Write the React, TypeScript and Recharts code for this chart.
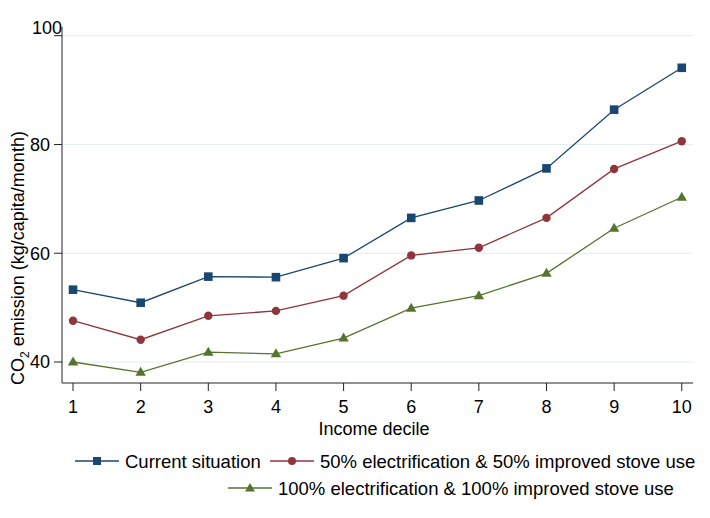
import React from "react";
import { LineChart, Line, XAxis, YAxis, CartesianGrid, Legend, Label } from "recharts";

const deciles = [1, 2, 3, 4, 5, 6, 7, 8, 9, 10];
const currentSituation = [53.3, 50.9, 55.7, 55.6, 59.1, 66.5, 69.7, 75.6, 86.4, 94.1];
const halfElectrification = [47.6, 44.1, 48.5, 49.4, 52.2, 59.6, 61.0, 66.5, 75.5, 80.6];
const fullElectrification = [40.0, 38.1, 41.8, 41.5, 44.4, 49.9, 52.2, 56.3, 64.6, 70.3];
const yTicks = [40, 60, 80, 100];
const seriesNames = [
  "Current situation",
  "50% electrification & 50% improved stove use",
  "100% electrification & 100% improved stove use",
];

const BLUE = "#1a476f";
const RED = "#90353b";
const GREEN = "#55752f";
const FONT = "'Liberation Sans', Arial, sans-serif";

const data = deciles.map((d, i) => ({
  decile: d,
  current: currentSituation[i],
  half: halfElectrification[i],
  full: fullElectrification[i],
}));

const SquareDot = (props: any) => {
  const { cx, cy } = props;
  if (cx == null || cy == null) return null;
  return <rect x={cx - 4.3} y={cy - 4.3} width={8.6} height={8.6} fill={BLUE} />;
};
const CircleDot = (props: any) => {
  const { cx, cy } = props;
  if (cx == null || cy == null) return null;
  return <circle cx={cx} cy={cy} r={4.2} fill={RED} />;
};
const TriangleDot = (props: any) => {
  const { cx, cy } = props;
  if (cx == null || cy == null) return null;
  return <polygon points={`${cx},${cy - 5.5} ${cx - 5.2},${cy + 3.5} ${cx + 5.2},${cy + 3.5}`} fill={GREEN} />;
};

const YTick = (props: any) => {
  const { x, y, payload } = props;
  const isTop = payload.value === 100;
  return (
    <text
      x={isTop ? x + 12 : x}
      y={isTop ? y - 8 : y}
      dy="0.355em"
      textAnchor="end"
      fontSize={18}
      fontFamily={FONT}
      fill="#000"
    >
      {payload.value}
    </text>
  );
};

const XTick = (props: any) => {
  const { x, y, payload } = props;
  return (
    <text x={x} y={y} dy="0.71em" textAnchor="middle" fontSize={18} fontFamily={FONT} fill="#000">
      {payload.value}
    </text>
  );
};

const YTitle = () => (
  <text
    transform="translate(24,258) rotate(-90)"
    textAnchor="middle"
    fontSize={18}
    fontFamily={FONT}
    fill="#000"
  >
    CO<tspan fontSize={12} dy={5}>2</tspan>
    <tspan dy={-5}> emission (kg/capita/month)</tspan>
  </text>
);

const XTitle = () => (
  <text x={374} y={435} textAnchor="middle" fontSize={18} fontFamily={FONT} fill="#000">
    Income decile
  </text>
);

const LegendContent = () => {
  const items = [
    { name: seriesNames[0], color: BLUE, lx: 75, y: 21, marker: "square" },
    { name: seriesNames[1], color: RED, lx: 270, y: 21, marker: "circle" },
    { name: seriesNames[2], color: GREEN, lx: 228, y: 48, marker: "triangle" },
  ];
  return (
    <svg width={710} height={78} style={{ display: "block" }}>
      {items.map((it) => {
        const mx = it.lx + 22;
        return (
          <g key={it.name}>
            <line x1={it.lx} x2={it.lx + 44} y1={it.y} y2={it.y} stroke={it.color} strokeWidth={1.3} />
            {it.marker === "square" && <rect x={mx - 4} y={it.y - 4} width={8} height={8} fill={it.color} />}
            {it.marker === "circle" && <circle cx={mx} cy={it.y} r={4} fill={it.color} />}
            {it.marker === "triangle" && (
              <polygon points={`${mx},${it.y - 5} ${mx - 5},${it.y + 3.5} ${mx + 5},${it.y + 3.5}`} fill={it.color} />
            )}
            <text x={it.lx + 50} y={it.y} dy="0.355em" fontSize={18.5} fontFamily={FONT} fill="#000">
              {it.name}
            </text>
          </g>
        );
      })}
    </svg>
  );
};

export default function App() {
  return (
    <div style={{ position: "absolute", left: 0, top: 0, width: 710, height: 518, background: "#fff" }}>
      <LineChart width={710} height={518} data={data} margin={{ top: 27, right: 17, bottom: 105, left: 22 }}>
        <CartesianGrid vertical={false} horizontalValues={yTicks} stroke="#e4edef" strokeWidth={1} />
        <XAxis
          dataKey="decile"
          type="number"
          domain={[0.837, 10.166]}
          ticks={deciles}
          allowDataOverflow
          height={30}
          tickSize={8}
          tickMargin={9}
          stroke="#222"
          tick={<XTick />}
          interval={0}
        >
          <Label content={<XTitle />} />
        </XAxis>
        <YAxis
          type="number"
          domain={[36.14, 101.6]}
          ticks={yTicks}
          allowDataOverflow
          width={40}
          tickSize={8}
          tickMargin={4}
          stroke="#222"
          tick={<YTick />}
          interval={0}
        >
          <Label content={<YTitle />} />
        </YAxis>
        <Legend
          layout="horizontal"
          verticalAlign="middle"
          align="center"
          content={<LegendContent />}
          wrapperStyle={{ position: "absolute", left: 0, top: 440, width: 710, height: 78 }}
        />
        <Line dataKey="current" name={seriesNames[0]} stroke={BLUE} strokeWidth={1.3} dot={<SquareDot />} isAnimationActive={false} />
        <Line dataKey="half" name={seriesNames[1]} stroke={RED} strokeWidth={1.3} dot={<CircleDot />} isAnimationActive={false} />
        <Line dataKey="full" name={seriesNames[2]} stroke={GREEN} strokeWidth={1.3} dot={<TriangleDot />} isAnimationActive={false} />
      </LineChart>
    </div>
  );
}
